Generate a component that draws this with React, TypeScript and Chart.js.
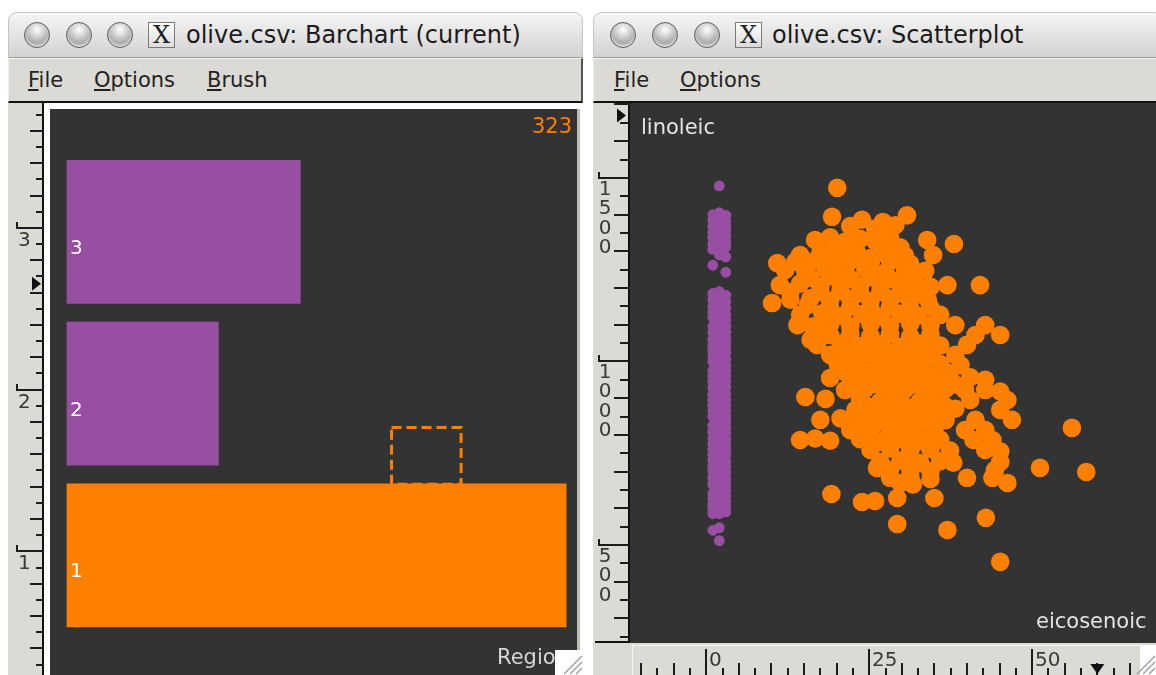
import React, { useEffect, useRef } from "react";
import { Chart, registerables } from "chart.js";

Chart.register(...registerables);

// ---------------- data ----------------
const regionIds = [1, 2, 3];
const regionCounts = [323, 98, 151];
const regionColors = ["#ff8000", "#984ea3", "#984ea3"];
const barCountRange = [-11, 330];
const barRegionRange = [0.26, 3.76];
const barRulerArrow = 2.68;
const brushCount = [210, 255];
const brushRegion = [1.44, 1.79];
const barAxisLabel = "Region";

// eicosenoic, linoleic (South = orange)
const southEicLin: [number, number][] = [
  [20.1, 1473],
  [19.3, 1394], [30.8, 1398],
  [23.9, 1386], [27.1, 1380],
  [22.1, 1369], [25.9, 1362], [29.0, 1371],
  [38.0, 1320],
  [16.7, 1331], [19.0, 1338], [21.3, 1326], [23.6, 1334], [25.9, 1329], [28.2, 1336], [33.9, 1331],
  [19.8, 1309], [22.9, 1312], [26.7, 1305], [29.8, 1310],
  [14.4, 1290], [17.5, 1296], [20.6, 1286], [23.3, 1292], [25.5, 1284], [27.9, 1294], [30.5, 1288], [34.8, 1290],
  [10.9, 1268], [13.7, 1272],
  [16.0, 1271], [19.0, 1267], [22.1, 1274], [25.2, 1268], [28.2, 1273], [31.3, 1266],
  [12.1, 1249], [15.2, 1244], [18.3, 1252], [21.3, 1246], [24.4, 1251], [27.5, 1243], [30.5, 1250], [33.6, 1247],
  [16.0, 1228], [19.0, 1232], [22.1, 1225], [25.2, 1230], [28.2, 1224], [31.3, 1229],
  [11.3, 1208], [14.4, 1212], [17.5, 1204], [20.6, 1210], [23.6, 1205], [26.7, 1212], [29.8, 1206], [32.1, 1210], [34.4, 1203], [37.0, 1208], [42.0, 1208],
  [12.9, 1189], [17.5, 1189], [20.6, 1192], [23.6, 1186], [26.7, 1190], [29.8, 1185], [32.8, 1191],
  [12.9, 1168], [16.0, 1172], [19.0, 1165], [22.1, 1170], [25.2, 1164], [28.2, 1171], [31.3, 1166], [34.0, 1168],
  [10.1, 1159], [15.6, 1154],
  [19.0, 1146], [22.1, 1149], [25.2, 1143], [28.2, 1148], [31.3, 1142], [34.4, 1147],
  [14.4, 1127], [17.8, 1131], [20.9, 1124], [23.9, 1129], [26.7, 1122], [29.8, 1130], [32.5, 1125], [35.9, 1127],
  [14.0, 1099], [16.3, 1095], [38.2, 1099], [42.8, 1099],
  [19.0, 1100], [22.1, 1096], [25.2, 1102], [28.2, 1097], [31.3, 1103], [34.4, 1098],
  [18.3, 1086],
  [19.0, 1072], [22.1, 1076], [25.2, 1069], [28.2, 1074], [31.3, 1068], [34.4, 1073], [41.3, 1072], [45.1, 1072],
  [16.0, 1059],
  [17.0, 1045], [20.6, 1049], [23.6, 1042], [26.7, 1047], [29.8, 1040], [32.8, 1048], [35.9, 1043], [40.0, 1045],
  [21.3, 1031], [24.4, 1034], [27.5, 1028], [30.5, 1033], [33.6, 1027],
  [19.0, 1018], [22.1, 1014], [25.2, 1021], [28.2, 1015], [31.3, 1020], [34.4, 1013], [38.2, 1018],
  [20.2, 990], [23.3, 994], [26.4, 987], [29.4, 992], [32.5, 986], [35.9, 993], [39.0, 990],
  [21.3, 971], [24.4, 974], [27.5, 968], [30.5, 973], [33.6, 967], [36.7, 972],
  [19.0, 955], [22.1, 959], [25.2, 952], [28.2, 957], [31.3, 951], [34.4, 958], [37.4, 953], [40.5, 957], [42.8, 950],
  [22.9, 936], [25.9, 939], [29.0, 933], [32.1, 938], [35.1, 932], [38.2, 937],
  [21.3, 922], [24.4, 926], [27.5, 919], [30.5, 924], [33.6, 918], [36.7, 925], [39.7, 922], [42.8, 922], [45.1, 918],
  [15.2, 903], [18.3, 898],
  [23.6, 895], [26.7, 891], [29.8, 898], [32.8, 892], [35.9, 897], [40.5, 895], [46.2, 895],
  [24.4, 881], [27.5, 884], [30.5, 878], [33.6, 883], [36.7, 877],
  [22.9, 868], [25.9, 872], [29.0, 865], [32.1, 870], [35.1, 864], [38.2, 871], [45.1, 868],
  [17.5, 841], [20.6, 845], [24.4, 838], [27.5, 843], [30.5, 837], [33.6, 844], [36.7, 840], [41.3, 841], [46.9, 841],
  [22.9, 827], [25.9, 830], [29.0, 824], [32.1, 829], [35.1, 823],
  [56.1, 819],
  [22.1, 813], [25.2, 817], [28.2, 810], [31.3, 815], [34.4, 809], [39.7, 813], [42.8, 813],
  [14.4, 786], [16.7, 790], [19.0, 784], [23.6, 788], [26.7, 782], [29.8, 789], [32.8, 783], [35.9, 787], [41.0, 786], [43.9, 786],
  [25.2, 772], [28.2, 775], [31.3, 769], [34.4, 774],
  [25.2, 759], [28.2, 763], [31.3, 756], [34.4, 761], [37.4, 757], [42.8, 759], [45.1, 755],
  [26.7, 726], [29.8, 730], [32.8, 723], [35.9, 728], [37.9, 724], [45.1, 726],
  [26.2, 710], [51.2, 710],
  [28.2, 704], [31.3, 707], [34.4, 701], [44.3, 704],
  [58.3, 699],
  [28.2, 683], [31.3, 687], [34.4, 680], [40.0, 683], [43.9, 683],
  [29.8, 669], [31.7, 665], [46.2, 669],
  [19.2, 639],
  [29.3, 628], [35.0, 628],
  [23.9, 617], [25.9, 620],
  [42.9, 574],
  [29.3, 557],
  [37.0, 541],
  [45.1, 454],
];

// eicosenoic, linoleic (North + Sardinia = purple)
const northEicLin: [number, number][] = [
  [2, 1478],
  [1, 1400], [2, 1405], [3, 1398], [1, 1384], [2, 1390], [3, 1382], [1, 1368], [2, 1378], [3, 1370],
  [1, 1352], [2, 1362], [3, 1356], [1, 1338], [2, 1348], [3, 1342], [1, 1320], [2, 1332], [3, 1326],
  [1, 1305], [2, 1318], [3, 1312], [2, 1300], [2, 1290], [3, 1285],
  [1, 1262], [3, 1243],
  [1, 1185], [1, 1168], [1, 1150], [1, 1135], [1, 1120], [1, 1095], [1, 1078], [1, 1060], [1, 1045], [1, 1030],
  [1, 1015], [1, 1000], [1, 975], [1, 960], [1, 945], [1, 928], [1, 910], [1, 895], [1, 880], [1, 865],
  [1, 850], [1, 825], [1, 808], [1, 790], [1, 775], [1, 760], [1, 745], [1, 730], [1, 715], [1, 700],
  [1, 682], [1, 665], [1, 640], [1, 625], [1, 610], [1, 598], [1, 585],
  [2, 1190], [2, 1175], [2, 1162], [2, 1148], [2, 1135], [2, 1120], [2, 1105], [2, 1090], [2, 1075], [2, 1060],
  [2, 1048], [2, 1030], [2, 1015], [2, 1000], [2, 985], [2, 970], [2, 955], [2, 942], [2, 928], [2, 912],
  [2, 898], [2, 884], [2, 870], [2, 855], [2, 840], [2, 826], [2, 812], [2, 795], [2, 780], [2, 765],
  [2, 752], [2, 735], [2, 720], [2, 705], [2, 690], [2, 675], [2, 660], [2, 645], [2, 630], [2, 615], [2, 600], [2, 585],
  [3, 1180], [3, 1162], [3, 1145], [3, 1128], [3, 1112], [3, 1096], [3, 1080], [3, 1065], [3, 1050], [3, 1036],
  [3, 1022], [3, 1006], [3, 990], [3, 976], [3, 962], [3, 946], [3, 930], [3, 912], [3, 895], [3, 880],
  [3, 865], [3, 850], [3, 835], [3, 820], [3, 805], [3, 790], [3, 775], [3, 760], [3, 745], [3, 728],
  [3, 712], [3, 696], [3, 680], [3, 665], [3, 650], [3, 634], [3, 618], [3, 604], [3, 590],
  [1, 540], [2, 547], [2, 512],
];

const eicRange = [-11.7, 69];
const linRange = [233, 1704];
const linArrow = 1670;
const eicArrow = 60;
const xLabel = "eicosenoic";
const yLabel = "linoleic";

// ---------------- styles ----------------
const RULER_BG = "#dcdad5";
const PLOT_BG = "#333333";
const TICK = "#1c1c1c";
const FONT = '"DejaVu Sans", sans-serif';

function drawGrip(ctx: CanvasRenderingContext2D, x: number, y: number, w: number, h: number) {
  ctx.fillStyle = "#ffffff";
  ctx.fillRect(x, y, w, h);
  ctx.strokeStyle = "#a0a0a0";
  ctx.lineWidth = 1.5;
  for (let i = 0; i < 3; i++) {
    const d = 7 + i * 6;
    ctx.beginPath();
    ctx.moveTo(x + w - 1, y + h - d);
    ctx.lineTo(x + w - d, y + h - 1);
    ctx.stroke();
  }
}

function hLine(ctx: CanvasRenderingContext2D, x0: number, x1: number, y: number) {
  ctx.beginPath();
  ctx.moveTo(x0, y);
  ctx.lineTo(x1, y);
  ctx.stroke();
}
function vLine(ctx: CanvasRenderingContext2D, x: number, y0: number, y1: number) {
  ctx.beginPath();
  ctx.moveTo(x, y0);
  ctx.lineTo(x, y1);
  ctx.stroke();
}

const barDecor = {
  id: "barDecor",
  beforeDraw(chart: any) {
    const { ctx, chartArea: a, width, height } = chart;
    ctx.save();
    ctx.fillStyle = "#ffffff";
    ctx.fillRect(0, 0, width, height);
    ctx.fillStyle = RULER_BG;
    ctx.fillRect(0, 0, 34, height);
    ctx.fillStyle = "#111";
    ctx.fillRect(34, 0, 2, height);
    ctx.fillStyle = "#bdbbb6";
    ctx.fillRect(a.right, a.top, 3, a.bottom - a.top);
    ctx.fillStyle = PLOT_BG;
    ctx.fillRect(a.left, a.top, a.right - a.left, a.bottom - a.top);
    ctx.restore();
  },
  afterDraw(chart: any) {
    const { ctx, chartArea: a } = chart;
    const xs = chart.scales.x;
    const ys = chart.scales.y;
    ctx.save();
    ctx.font = `20px ${FONT}`;
    ctx.fillStyle = "#ffffff";
    ctx.textAlign = "left";
    ctx.textBaseline = "alphabetic";
    regionIds.forEach((r) => ctx.fillText(String(r), xs.getPixelForValue(0) + 3, ys.getPixelForValue(r) + 22));
    ctx.strokeStyle = "#ff8000";
    ctx.lineWidth = 3;
    ctx.setLineDash([10, 5]);
    const bx0 = xs.getPixelForValue(brushCount[0]);
    const bx1 = xs.getPixelForValue(brushCount[1]);
    const by0 = ys.getPixelForValue(brushRegion[1]);
    const by1 = ys.getPixelForValue(brushRegion[0]);
    ctx.strokeRect(bx0, by0, bx1 - bx0, by1 - by0);
    ctx.setLineDash([]);
    ctx.font = `21px ${FONT}`;
    ctx.fillStyle = "#ff8000";
    ctx.textAlign = "right";
    ctx.fillText(String(Math.max(...regionCounts)), a.right - 5, a.top + 24);
    ctx.fillStyle = "#d6d6d6";
    ctx.textAlign = "left";
    ctx.fillText(barAxisLabel, a.right - 80, a.bottom - 11);
    drawGrip(ctx, a.right - 22, a.bottom - 25, 28, 25);
    ctx.strokeStyle = TICK;
    ctx.lineWidth = 2;
    ctx.font = `20px ${FONT}`;
    ctx.fillStyle = "#3a3a3a";
    const lo = Math.ceil(ys.min * 10);
    const hi = Math.floor(ys.max * 10);
    for (let k = lo; k <= hi; k++) {
      const y = Math.round(ys.getPixelForValue(k / 10)) - 4;
      if (k % 10 === 0) {
        hLine(ctx, 8, 36, y);
        vLine(ctx, 9, y - 6, y);
        ctx.fillText(String(k / 10), 10, y + 18);
      } else if (k % 2 === 0) {
        hLine(ctx, 22, 36, y);
      } else {
        hLine(ctx, 28, 36, y);
      }
    }
    const ay = ys.getPixelForValue(barRulerArrow);
    ctx.fillStyle = "#111";
    ctx.beginPath();
    ctx.moveTo(24, ay - 7);
    ctx.lineTo(24, ay + 7);
    ctx.lineTo(33, ay);
    ctx.closePath();
    ctx.fill();
    ctx.restore();
  },
};

const scatterDecor = {
  id: "scatterDecor",
  beforeDraw(chart: any) {
    const { ctx, chartArea: a, width, height } = chart;
    ctx.save();
    ctx.fillStyle = RULER_BG;
    ctx.fillRect(0, 0, width, height);
    ctx.fillStyle = PLOT_BG;
    ctx.fillRect(a.left, a.top, a.right - a.left, a.bottom - a.top);
    ctx.restore();
  },
  afterDraw(chart: any) {
    const { ctx, chartArea: a, width, height } = chart;
    const xs = chart.scales.x;
    const ys = chart.scales.y;
    ctx.save();
    ctx.font = `21px ${FONT}`;
    ctx.fillStyle = "#e4e4e4";
    ctx.textAlign = "left";
    ctx.textBaseline = "alphabetic";
    ctx.fillText(yLabel, a.left + 11, a.top + 31);
    ctx.fillText(xLabel, a.right - 120, a.bottom - 15);
    ctx.fillStyle = "#111";
    ctx.fillRect(35, 0, 2, a.bottom);
    ctx.fillRect(2, a.bottom - 2, 35, 2);
    ctx.fillStyle = "#f4f4f2";
    ctx.fillRect(39, a.bottom + 2, 1, height - a.bottom);
    ctx.fillRect(39, a.bottom + 2, width - 39, 1);
    ctx.strokeStyle = TICK;
    ctx.lineWidth = 2;
    ctx.font = `20px ${FONT}`;
    ctx.textAlign = "center";
    const lo = Math.ceil(ys.min / 50);
    const hi = Math.floor(ys.max / 50);
    for (let k = lo; k <= hi; k++) {
      const v = k * 50;
      const y = Math.round(ys.getPixelForValue(v));
      if (y > a.bottom - 3) continue;
      if (v % 500 === 0) {
        hLine(ctx, 5, 36, y);
        vLine(ctx, 6, y - 6, y);
        ctx.fillStyle = "#3a3a3a";
        String(v).split("").forEach((ch, i) => ctx.fillText(ch, 12, y + 16.5 + i * 19.5));
      } else if (v % 100 === 0) {
        hLine(ctx, 21, 36, y);
      } else {
        hLine(ctx, 27, 36, y);
      }
    }
    const ay = ys.getPixelForValue(linArrow);
    ctx.fillStyle = "#111";
    ctx.beginPath();
    ctx.moveTo(24, ay - 7);
    ctx.lineTo(24, ay + 7);
    ctx.lineTo(33, ay);
    ctx.closePath();
    ctx.fill();
    ctx.textAlign = "left";
    const xlo = Math.ceil(xs.min / 2.5);
    const xhi = Math.floor(xs.max / 2.5);
    for (let k = xlo; k <= xhi; k++) {
      const v = k * 2.5;
      const x = Math.round(xs.getPixelForValue(v));
      if (x < 42 || x > width - 18) continue;
      if (v % 25 === 0) {
        vLine(ctx, x, a.bottom + 6, height);
        ctx.fillStyle = "#3a3a3a";
        ctx.fillText(String(v), x + 3, a.bottom + 23);
      } else if (v % 5 === 0) {
        vLine(ctx, x, height - 12, height);
      } else {
        vLine(ctx, x, height - 7, height);
      }
    }
    const ax = xs.getPixelForValue(eicArrow);
    ctx.fillStyle = "#111";
    ctx.beginPath();
    ctx.moveTo(ax - 7, height - 11);
    ctx.lineTo(ax + 7, height - 11);
    ctx.lineTo(ax, height - 1);
    ctx.closePath();
    ctx.fill();
    drawGrip(ctx, width - 16, a.bottom + 2, 16, height - a.bottom - 2);
    ctx.restore();
  },
};

// ---------------- window chrome ----------------
function Button({ cx }: { cx: number }) {
  return (
    <div
      style={{
        position: "absolute",
        left: cx - 13,
        top: 22,
        width: 24,
        height: 24,
        borderRadius: "50%",
        border: "1px solid #5e5e5e",
        background: "radial-gradient(circle at 50% 28%, #ffffff 0%, #dedede 25%, #9f9f9f 70%, #d0d0d0 100%)",
        boxShadow: "inset 0 -2px 3px rgba(255,255,255,0.7)",
      }}
    />
  );
}

function WindowChrome(props: {
  left: number;
  width: number;
  title: string;
  titleLeft: number;
  buttons: number[];
  xLeft: number;
  menus: { label: string; left: number }[];
}) {
  const { left, width, title, titleLeft, buttons, xLeft, menus } = props;
  return (
    <>
      <div
        style={{
          position: "absolute",
          left,
          top: 12,
          width,
          height: 46,
          boxSizing: "border-box",
          borderRadius: "9px 9px 0 0",
          border: "1px solid #c4c4c4",
          borderBottom: "1px solid #9c9c9c",
          background: "linear-gradient(#f5f5f5, #e4e4e4 50%, #d3d3d3)",
        }}
      />
      {buttons.map((cx) => (
        <Button key={cx} cx={cx} />
      ))}
      <div
        style={{
          position: "absolute",
          left: xLeft,
          top: 22,
          width: 27,
          height: 26,
          boxSizing: "border-box",
          border: "1px solid #7a7a7a",
          background: "linear-gradient(#ffffff, #dcdcdc)",
          fontFamily: '"DejaVu Serif", "Liberation Serif", serif',
          fontSize: 24,
          lineHeight: "24px",
          textAlign: "center",
          color: "#222",
        }}
      >
        X
      </div>
      <div
        style={{
          position: "absolute",
          left: titleLeft,
          top: 21,
          height: 28,
          lineHeight: "28px",
          fontFamily: FONT,
          fontSize: 24,
          color: "#1b1b1b",
          whiteSpace: "nowrap",
        }}
      >
        {title}
      </div>
      <div
        style={{
          position: "absolute",
          left,
          top: 58,
          width,
          height: 45,
          boxSizing: "border-box",
          background: RULER_BG,
          borderTop: "1px solid #f6f5f3",
          borderLeft: "1px solid #efeeec",
          borderRight: "2px solid #555",
          borderBottom: "2px solid #111",
        }}
      />
      {menus.map((m) => (
        <div
          key={m.label}
          style={{
            position: "absolute",
            left: m.left,
            top: 67,
            lineHeight: "26px",
            fontFamily: FONT,
            fontSize: 21,
            color: "#222",
            whiteSpace: "nowrap",
          }}
        >
          <u>{m.label[0]}</u>
          {m.label.slice(1)}
        </div>
      ))}
    </>
  );
}

export default function App() {
  const barRef = useRef<HTMLCanvasElement | null>(null);
  const scatRef = useRef<HTMLCanvasElement | null>(null);

  useEffect(() => {
    if (!barRef.current || !scatRef.current) return;
    const bar = new Chart(barRef.current, {
      type: "bar",
      data: {
        datasets: [
          {
            data: regionIds.map((r, i) => ({ x: regionCounts[i], y: r })),
            backgroundColor: regionColors,
            borderWidth: 0,
            barThickness: 143,
          } as any,
        ],
      },
      options: {
        indexAxis: "y",
        animation: false,
        responsive: false,
        events: [],
        layout: { autoPadding: false, padding: { left: 42, top: 6, right: 6, bottom: 0 } } as any,
        plugins: { legend: { display: false }, tooltip: { enabled: false } },
        scales: {
          x: { type: "linear", min: barCountRange[0], max: barCountRange[1], display: false },
          y: { type: "linear", min: barRegionRange[0], max: barRegionRange[1], display: false, offset: false } as any,
        },
      },
      plugins: [barDecor],
    });

    const scat = new Chart(scatRef.current, {
      type: "scatter",
      data: {
        datasets: [
          {
            data: northEicLin.map(([x, y]) => ({ x, y })),
            backgroundColor: "#984ea3",
            borderWidth: 0,
            pointRadius: 5.4,
          },
          {
            data: southEicLin.map(([x, y]) => ({ x, y })),
            backgroundColor: "#ff8000",
            borderWidth: 0,
            pointRadius: 9.3,
          },
        ],
      },
      options: {
        animation: false,
        responsive: false,
        events: [],
        layout: { autoPadding: false, padding: { left: 37, top: 0, right: 0, bottom: 32 } } as any,
        plugins: { legend: { display: false }, tooltip: { enabled: false } },
        scales: {
          x: { type: "linear", min: eicRange[0], max: eicRange[1], display: false },
          y: { type: "linear", min: linRange[0], max: linRange[1], display: false },
        },
      },
      plugins: [scatterDecor],
    });

    return () => {
      bar.destroy();
      scat.destroy();
    };
  }, []);

  return (
    <div
      style={{
        position: "fixed",
        left: 0,
        top: 0,
        width: 1156,
        height: 675,
        overflow: "hidden",
        background: "#ffffff",
      }}
    >
      <WindowChrome
        left={8}
        width={575}
        title="olive.csv: Barchart (current)"
        titleLeft={186}
        buttons={[37, 79, 120]}
        xLeft={148}
        menus={[
          { label: "File", left: 28 },
          { label: "Options", left: 94 },
          { label: "Brush", left: 207 },
        ]}
      />
      <WindowChrome
        left={593}
        width={570}
        title="olive.csv: Scatterplot"
        titleLeft={772}
        buttons={[623, 665, 707]}
        xLeft={735}
        menus={[
          { label: "File", left: 614 },
          { label: "Options", left: 680 },
        ]}
      />
      <canvas
        ref={barRef}
        width={575}
        height={572}
        style={{ position: "absolute", left: 8, top: 103, width: 575, height: 572, display: "block" }}
      />
      <canvas
        ref={scatRef}
        width={563}
        height={572}
        style={{ position: "absolute", left: 593, top: 103, width: 563, height: 572, display: "block" }}
      />
    </div>
  );
}
